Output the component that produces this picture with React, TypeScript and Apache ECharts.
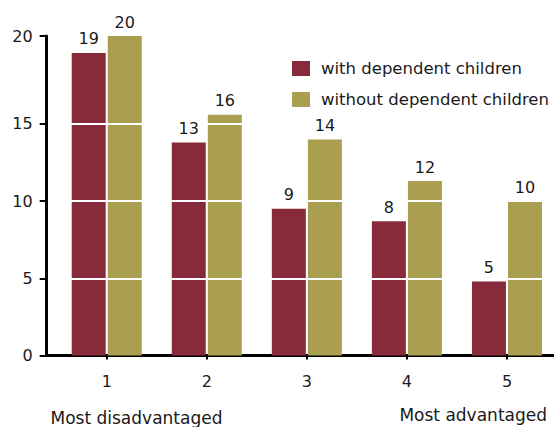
import React, { useEffect, useRef } from "react";
import * as echarts from "echarts";

const quintiles = [1, 2, 3, 4, 5];
const seriesNames = ["with dependent children", "without dependent children"];
const withChildren = [19.6, 13.8, 9.5, 8.7, 4.8];
const withoutChildren = [20.7, 15.6, 14.0, 11.3, 10.0];
const withLabels = ["19", "13", "9", "8", "5"];
const withoutLabels = ["20", "16", "14", "12", "10"];
const yTickValues = [0, 5, 10, 15, 20.7];
const yTickLabels = ["0", "5", "10", "15", "20"];
const gridValues = [5, 10, 15];
const endLabels = ["Most disadvantaged", "Most advantaged"];

const MAROON = "#872b3b";
const OLIVE = "#aa9f51";
const FONT = "DejaVu Sans";
const TXT = "#1a1a1a";

export default function App() {
  const ref = useRef<HTMLDivElement>(null);
  useEffect(() => {
    document.body.style.margin = "0";
    const chart = echarts.init(ref.current!, undefined, { renderer: "svg" });
    const mkLabel = (labels: string[]) => ({
      show: true,
      position: "top",
      distance: 6,
      fontFamily: FONT,
      fontSize: 16,
      color: TXT,
      formatter: (p: any) => labels[p.dataIndex],
    });
    const xBase = {
      type: "value",
      min: 0.4,
      max: 5.47,
      splitLine: { show: false },
    };
    chart.setOption({
      animation: false,
      textStyle: { fontFamily: FONT },
      grid: { left: 46.7, right: 0, top: 36, bottom: 71.5, containLabel: false },
      legend: {
        orient: "vertical",
        left: 292,
        top: 60,
        padding: 0,
        itemWidth: 18,
        itemHeight: 15,
        itemGap: 14,
        icon: "rect",
        textStyle: { fontFamily: FONT, fontSize: 16.5, color: TXT, padding: [0, 0, 0, 6] },
        data: seriesNames,
      },
      xAxis: [
        {
          ...xBase,
          axisLine: { show: true, onZero: false, lineStyle: { color: "#000", width: 3 } },
          axisTick: { show: true, length: 4, lineStyle: { color: "#000", width: 2 }, customValues: quintiles },
          axisLabel: {
            customValues: quintiles,
            margin: 18,
            fontFamily: FONT,
            fontSize: 16,
            color: TXT,
            formatter: (v: number) => String(v),
          },
        },
        { ...xBase, show: false },
      ],
      yAxis: {
        type: "value",
        min: 0,
        max: 20.7,
        z: 10,
        splitLine: { show: false },
        axisLine: { show: true, lineStyle: { color: "#000", width: 3 } },
        axisTick: { show: true, length: 7, lineStyle: { color: "#000", width: 2 }, customValues: yTickValues },
        axisLabel: {
          customValues: yTickValues,
          margin: 14,
          fontFamily: FONT,
          fontSize: 16,
          color: TXT,
          formatter: (v: number) => {
            const i = yTickValues.indexOf(v);
            return i >= 0 ? yTickLabels[i] : "";
          },
        },
      },
      series: [
        {
          name: seriesNames[0],
          type: "bar",
          barWidth: 34,
          barGap: "6%",
          itemStyle: { color: MAROON },
          data: quintiles.map((q, i) => [q, withChildren[i]]),
        },
        {
          name: seriesNames[1],
          type: "bar",
          barWidth: 34,
          barGap: "6%",
          itemStyle: { color: OLIVE },
          data: quintiles.map((q, i) => [q, withoutChildren[i]]),
          markLine: {
            silent: true,
            symbol: "none",
            z: 5,
            label: { show: false },
            lineStyle: { color: "#ffffff", width: 2, type: "solid", opacity: 1 },
            data: gridValues.map((v) => ({ yAxis: v })),
          },
        },
        {
          name: "labels-with",
          type: "bar",
          xAxisIndex: 1,
          z: 20,
          silent: true,
          barWidth: 34,
          barGap: "6%",
          itemStyle: { color: "rgba(0,0,0,0)" },
          label: mkLabel(withLabels),
          data: quintiles.map((q, i) => [q, withChildren[i]]),
        },
        {
          name: "labels-without",
          type: "bar",
          xAxisIndex: 1,
          z: 20,
          silent: true,
          barWidth: 34,
          barGap: "6%",
          itemStyle: { color: "rgba(0,0,0,0)" },
          label: mkLabel(withoutLabels),
          data: quintiles.map((q, i) => [q, withoutChildren[i]]),
        },
      ],
      graphic: [
        {
          type: "text",
          left: 50.5,
          top: 409,
          style: { text: endLabels[0], fontFamily: FONT, fontSize: 17, fill: TXT },
        },
        {
          type: "text",
          right: 7,
          top: 406,
          style: { text: endLabels[1], fontFamily: FONT, fontSize: 17, fill: TXT },
        },
      ],
    });
    return () => chart.dispose();
  }, []);
  return <div ref={ref} style={{ width: 554, height: 427 }} />;
}
